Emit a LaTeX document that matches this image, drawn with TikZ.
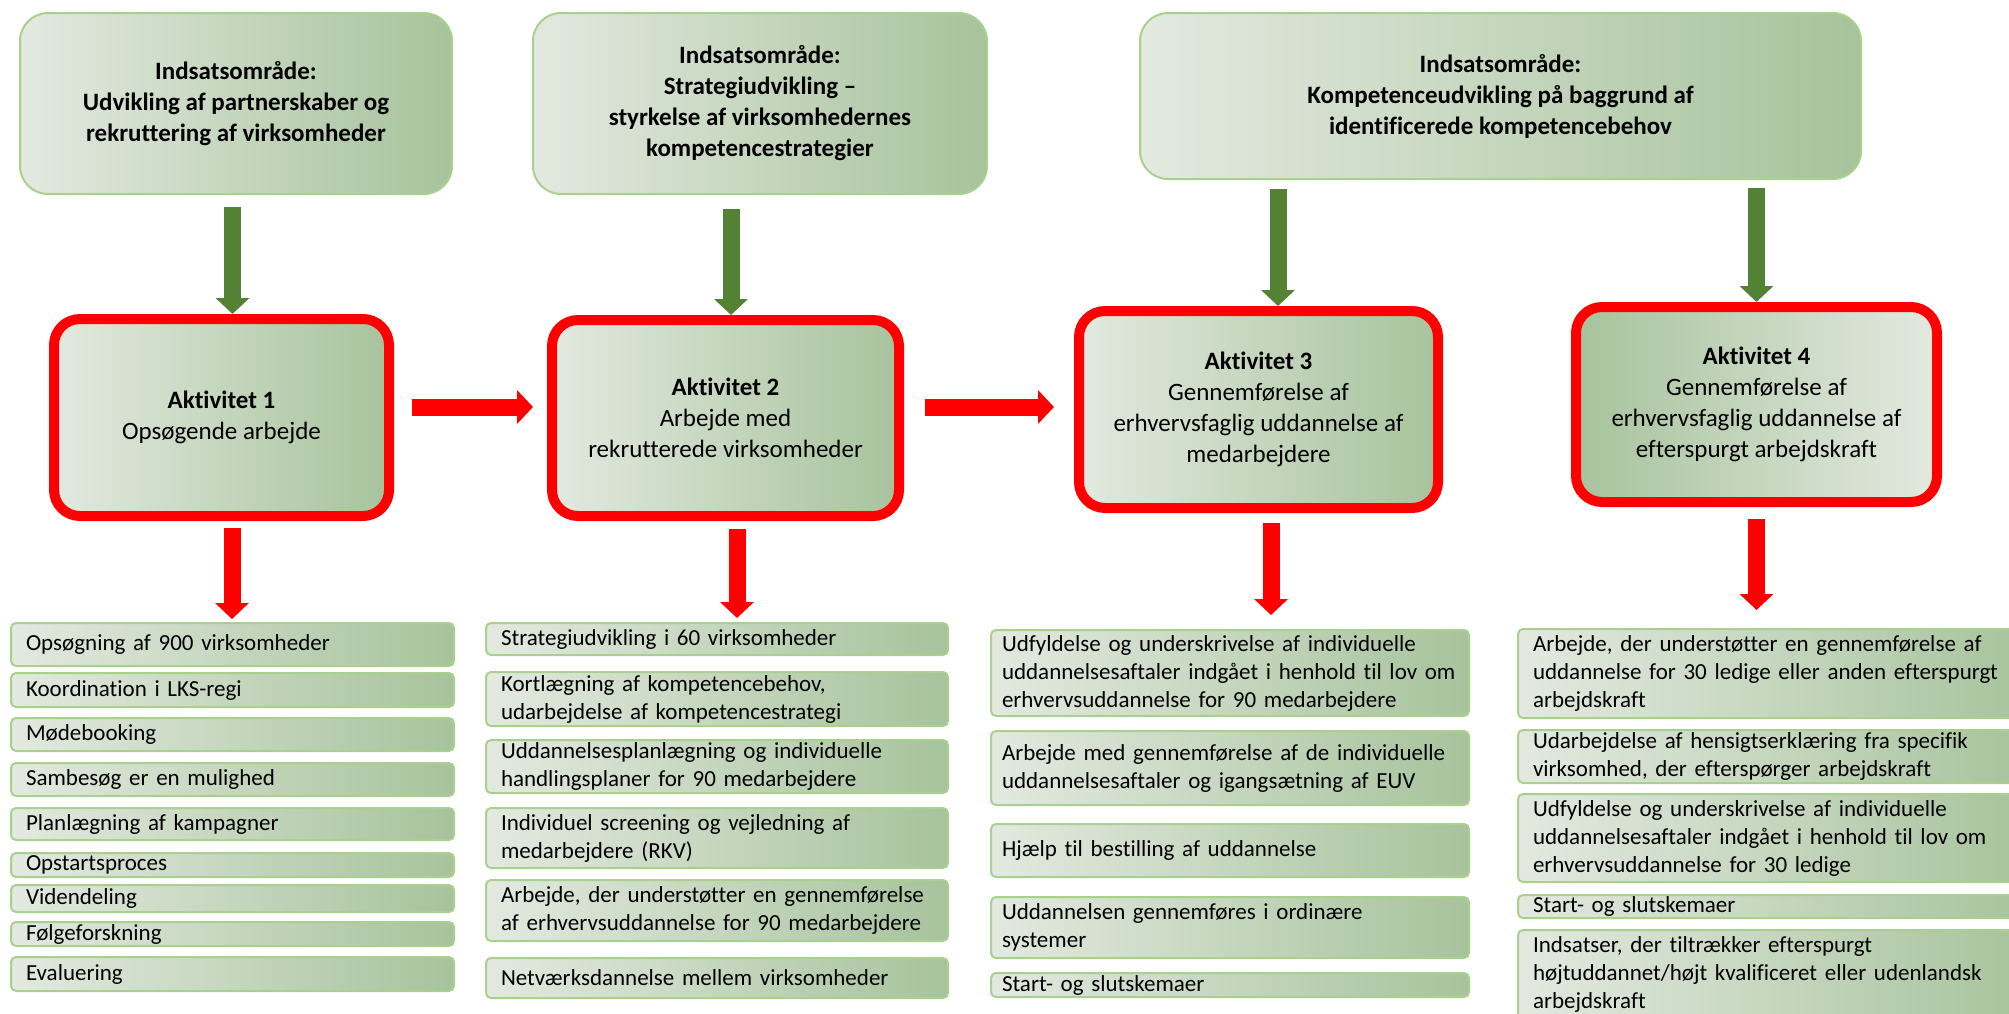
\documentclass[tikz,border=0pt]{standalone}
\usepackage{fontspec}
\setmainfont{Carlito}[Ligatures={TeX,NoCommon}]
\usetikzlibrary{arrows.meta,calc}

\definecolor{boxlight}{HTML}{E3E9E0}
\definecolor{boxdark}{HTML}{A7C39C}
\definecolor{boxline}{HTML}{A9D18E}
\definecolor{arrowgreen}{HTML}{548235}

\begin{document}
\begin{tikzpicture}[
  x=0.5pt,
  y=-0.5pt,
  topbox/.style={
    draw=boxline,
    line width=1pt,
    rounded corners=14pt,
    left color=boxlight,
    right color=boxdark,
    align=center,
    font=\fontsize{12.5}{15.5}\selectfont\bfseries
  },
  actbox/.style={
    draw=red,
    line width=5pt,
    rounded corners=13pt,
    left color=boxlight,
    right color=boxdark,
    align=center,
    font=\fontsize{12.5}{15.5}\selectfont
  },
  itembox/.style={
    draw=boxline,
    line width=1pt,
    rounded corners=2.5pt,
    left color=boxlight,
    right color=boxdark,
    anchor=north west,
    align=left,
    inner xsep=7.5pt,
    inner ysep=0.5pt,
    font=\fontsize{11.5}{14}\selectfont
  },
  garrow/.style={draw=arrowgreen, line width=8.5pt, -{Triangle[width=16.5pt,length=8pt]}},
  rarrow/.style={draw=red, line width=8.5pt, -{Triangle[width=16.5pt,length=8pt]}}
]
\useasboundingbox (0,0) rectangle (2009,1013);

% indsatsomraader
\node[topbox, minimum width=216pt, minimum height=90.5pt] (t1) at (236,103.5)
  {Indsatsområde:\\ Udvikling af partnerskaber og\\ rekruttering af virksomheder};
\node[topbox, minimum width=227pt, minimum height=90.5pt] (t2) at (760,103.5)
  {Indsatsområde:\\ Strategiudvikling –\\ styrkelse af virksomhedernes\\ kompetencestrategier};
\node[topbox, minimum width=360.5pt, minimum height=83pt] (t3) at (1500.5,96)
  {Indsatsområde:\\ Kompetenceudvikling på baggrund af\\ identificerede kompetencebehov};

% aktiviteter
\node[actbox, minimum width=167.5pt, minimum height=98.5pt] (act1) at (221.5,417.5)
  {\textbf{Aktivitet 1}\\ Opsøgende arbejde};
\node[actbox, minimum width=173.5pt, minimum height=98pt] (act2) at (725.5,418)
  {\textbf{Aktivitet 2}\\ Arbejde med\\ rekrutterede virksomheder};
\node[actbox, minimum width=179.5pt, minimum height=98.5pt] (act3) at (1258.5,409.5)
  {\textbf{Aktivitet 3}\\ Gennemførelse af\\ erhvervsfaglig uddannelse af\\ medarbejdere};
\node[actbox, left color=boxdark, right color=boxlight, minimum width=180.5pt, minimum height=97.5pt] (act4) at (1756.5,404.5)
  {\textbf{Aktivitet 4}\\ Gennemførelse af\\ erhvervsfaglig uddannelse af\\ efterspurgt arbejdskraft};

% delaktiviteter
\foreach \n/\ya/\h/\txt in {1/622/21.5/Opsøgning af 900 virksomheder, 2/672/17/Koordination i LKS-regi,
    3/717/16.5/Mødebooking, 4/762/16.5/Sambesøg er en mulighed, 5/807/16/Planlægning af kampagner,
    6/852/12/Opstartsproces, 7/884/13.5/Videndeling, 8/921/12/Følgeforskning, 9/956/17/Evaluering}
  \node[itembox, text width=206.5pt, minimum height=\h*1pt] (c1-\n) at (10,\ya) {\txt};
\foreach \n/\ya/\h/\txt in {1/622/16/Strategiudvikling i 60 virksomheder,
    2/671/27/{Kortlægning af kompetencebehov,\\ udarbejdelse af kompetencestrategi},
    3/739/26.5/Uddannelsesplanlægning og individuelle\\ handlingsplaner for 90 medarbejdere,
    4/807/30/Individuel screening og vejledning af\\ medarbejdere (RKV),
    5/879/30.5/{Arbejde, der understøtter en gennemførelse\\ af erhvervsuddannelse for 90 medarbejdere},
    6/957/20/Netværksdannelse mellem virksomheder}
  \node[itembox, text width=216pt, minimum height=\h*1pt] (c2-\n) at (485,\ya) {\txt};
\foreach \n/\ya/\h/\txt in {1/629/43/Udfyldelse og underskrivelse af individuelle\\ uddannelsesaftaler indgået i henhold til lov om\\ erhvervsuddannelse for 90 medarbejdere,
    2/730/37/Arbejde med gennemførelse af de individuelle\\ uddannelsesaftaler og igangsætning af EUV,
    3/823/26.5/Hjælp til bestilling af uddannelse,
    4/896/30.5/Uddannelsen gennemføres i ordinære\\ systemer,
    5/972/12/Start- og slutskemaer}
  \node[itembox, inner xsep=5.5pt, text width=228pt, minimum height=\h*1pt] (c3-\n) at (990,\ya) {\txt};
\foreach \n/\ya/\h/\txt in {1/628/44.5/{Arbejde, der understøtter en gennemførelse af\\ uddannelse for 30 ledige eller anden efterspurgt\\ arbejdskraft},
    2/729/26.5/{Udarbejdelse af hensigtserklæring fra specifik\\ virksomhed, der efterspørger arbejdskraft},
    3/793/44/Udfyldelse og underskrivelse af individuelle\\ uddannelsesaftaler indgået i henhold til lov om\\ erhvervsuddannelse for 30 ledige,
    4/894/11.5/Start- og slutskemaer,
    5/929/44.5/{Indsatser, der tiltrækker efterspurgt\\ højtuddannet/højt kvalificeret eller udenlandsk\\ arbejdskraft}}
  \node[itembox, text width=240.5pt, minimum height=\h*1pt] (c4-\n) at (1517,\ya) {\txt};

% pile
\coordinate (g1) at ($(t1.south -| act1.north)+(11,12)$);
\coordinate (g2) at ($(t2.south -| act2.north)+(5.5,14)$);
\coordinate (g3) at ($(t3.south -| act3.north)+(19.5,9)$);
\coordinate (g4) at ($(t3.south -| act4.north)+(0,8)$);
\draw[garrow] (g1) -- (g1 |- act1.north);
\draw[garrow] (g2) -- (g2 |- act2.north);
\draw[garrow] (g3) -- (g3 |- act3.north);
\draw[garrow] (g4) -- (g4 |- act4.north);

\coordinate (h1) at ($(act1.east)+(18,-10.5)$);
\coordinate (h2) at ($(act2.east)+(20.5,-11)$);
\draw[rarrow, shorten >=7pt] (h1) -- (h1 -| act2.west);
\draw[rarrow, shorten >=10pt] (h2) -- (h2 -| act3.west);

\coordinate (r1) at ($(act1.south)+(10.5,7)$);
\coordinate (r2) at ($(act2.south)+(11.5,8)$);
\coordinate (r3) at ($(act3.south)+(12.5,10)$);
\coordinate (r4) at ($(act4.south)+(0,12)$);
\draw[rarrow, shorten >=1.5pt] (r1) -- (r1 |- c1-1.north);
\draw[rarrow, shorten >=2pt] (r2) -- (r2 |- c2-1.north);
\draw[rarrow, shorten >=7pt] (r3) -- (r3 |- c3-1.north);
\draw[rarrow, shorten >=9pt] (r4) -- (r4 |- c4-1.north);
\end{tikzpicture}
\end{document}
